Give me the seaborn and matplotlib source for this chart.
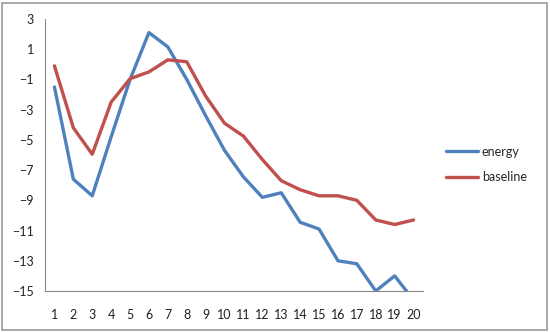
import numpy as np
import pandas as pd
import seaborn as sns
from matplotlib import pyplot as plt
from matplotlib.patches import Rectangle

# categories and series
x_vals = list(range(1, 21))
energy = [-1.5, -7.6, -8.7, -4.8, -1.0, 2.1, 1.15, -1.0, -3.4, -5.7,
          -7.45, -8.8, -8.5, -10.45, -10.9, -13.0, -13.2, -15.0, -14.0, -15.6]
baseline = [-0.1, -4.2, -5.95, -2.5, -0.95, -0.5, 0.3, 0.17, -2.1, -3.9,
            -4.75, -6.3, -7.7, -8.3, -8.7, -8.7, -9.0, -10.3, -10.6, -10.3]
y_ticks = [3, 1, -1, -3, -5, -7, -9, -11, -13, -15]

df = pd.DataFrame({
    'x': x_vals * 2,
    'value': energy + baseline,
    'series': ['energy'] * len(x_vals) + ['baseline'] * len(x_vals),
})

sns.set_style('white')
plt.rcParams['font.family'] = ['Lato', 'DejaVu Sans']

fig = plt.figure(figsize=(5.5, 3.32), dpi=100)
ax = fig.add_axes([45 / 550, 1 - 291 / 332, 378 / 550, 272 / 332])

sns.lineplot(data=df, x='x', y='value', hue='series',
             palette={'energy': '#4F81BD', 'baseline': '#C0504D'},
             linewidth=2.4, ax=ax, legend=True)

ax.set_xlim(0.5, 20.5)
ax.set_ylim(-15, 3)
ax.set_yticks(y_ticks)
ax.set_xticks(x_vals)
ax.set_xticks(np.arange(0.5, 21, 1), minor=True)
ax.tick_params(axis='x', which='major', length=0, pad=13, labelsize=9, colors='#222222')
ax.tick_params(axis='x', which='minor', length=4, width=0.8, color='#888888', direction='out')
ax.tick_params(axis='y', length=4, width=0.8, color='#888888', direction='out',
               labelsize=9, pad=4)
ax.tick_params(axis='y', colors='#888888', labelcolor='#222222')
ax.set_xlabel('')
ax.set_ylabel('')
for side in ['top', 'right']:
    ax.spines[side].set_visible(False)
for side in ['left', 'bottom']:
    ax.spines[side].set_color('#888888')
    ax.spines[side].set_linewidth(0.8)

handles, labels = ax.get_legend_handles_labels()
ax.legend(handles, labels, loc='center left', bbox_to_anchor=(1.03, 0.465),
          frameon=False, fontsize=9, handlelength=2.6, handletextpad=0.3,
          labelspacing=1.1)

fig.patches.append(Rectangle((2 / 550, 2 / 332), 545 / 550, 327 / 332,
                             transform=fig.transFigure, fill=False,
                             edgecolor='#999999', linewidth=1.2))

plt.savefig('out.png', dpi=100)
